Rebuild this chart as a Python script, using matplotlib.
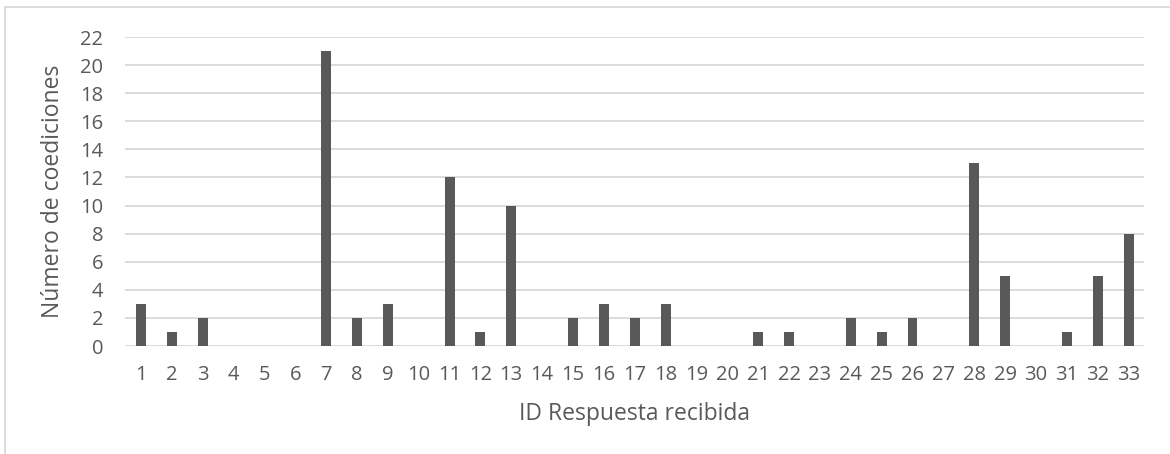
import matplotlib.pyplot as plt
from matplotlib.lines import Line2D

ids = list(range(1, 34))
coediciones = [3, 1, 2, 0, 0, 0, 21, 2, 3, 0, 12, 1, 10, 0, 2, 3, 2, 3, 0, 0,
               1, 1, 0, 2, 1, 2, 0, 13, 5, 0, 1, 5, 8]
yticks = list(range(0, 23, 2))

plt.rcParams['font.family'] = ['Open Sans', 'DejaVu Sans']
gray_text = '#595959'

fig = plt.figure(figsize=(11.7, 4.54), dpi=100)
ax = fig.add_axes([125.5 / 1170, 1 - 346 / 454, (1144 - 125.5) / 1170, (346 - 37) / 454])

ax.bar(ids, coediciones, width=0.32, color='#595959', zorder=3)

ax.set_xlim(0.5, 33.5)
ax.set_ylim(0, 22)
ax.set_yticks(yticks)
ax.set_xticks(ids)
ax.grid(axis='y', color='#d9d9d9', linewidth=1.3, zorder=0)
for s in ax.spines.values():
    s.set_visible(False)
ax.tick_params(length=0, labelsize=14.5, colors=gray_text)
ax.tick_params(axis='x', pad=14)
ax.tick_params(axis='y', pad=16)

ax.set_xlabel('ID Respuesta recibida', fontsize=16.5, color=gray_text, labelpad=12)
ax.set_ylabel('Número de coediciones', fontsize=16.5, color=gray_text, labelpad=11)

# chart-area border (only top and left visible in the crop)
fig.add_artist(Line2D([5 / 1170, 1], [1 - 7 / 454] * 2, color='#d9d9d9', lw=1.3))
fig.add_artist(Line2D([5 / 1170] * 2, [0, 1 - 7 / 454], color='#d9d9d9', lw=1.3))

fig.savefig('out.png', dpi=100)
